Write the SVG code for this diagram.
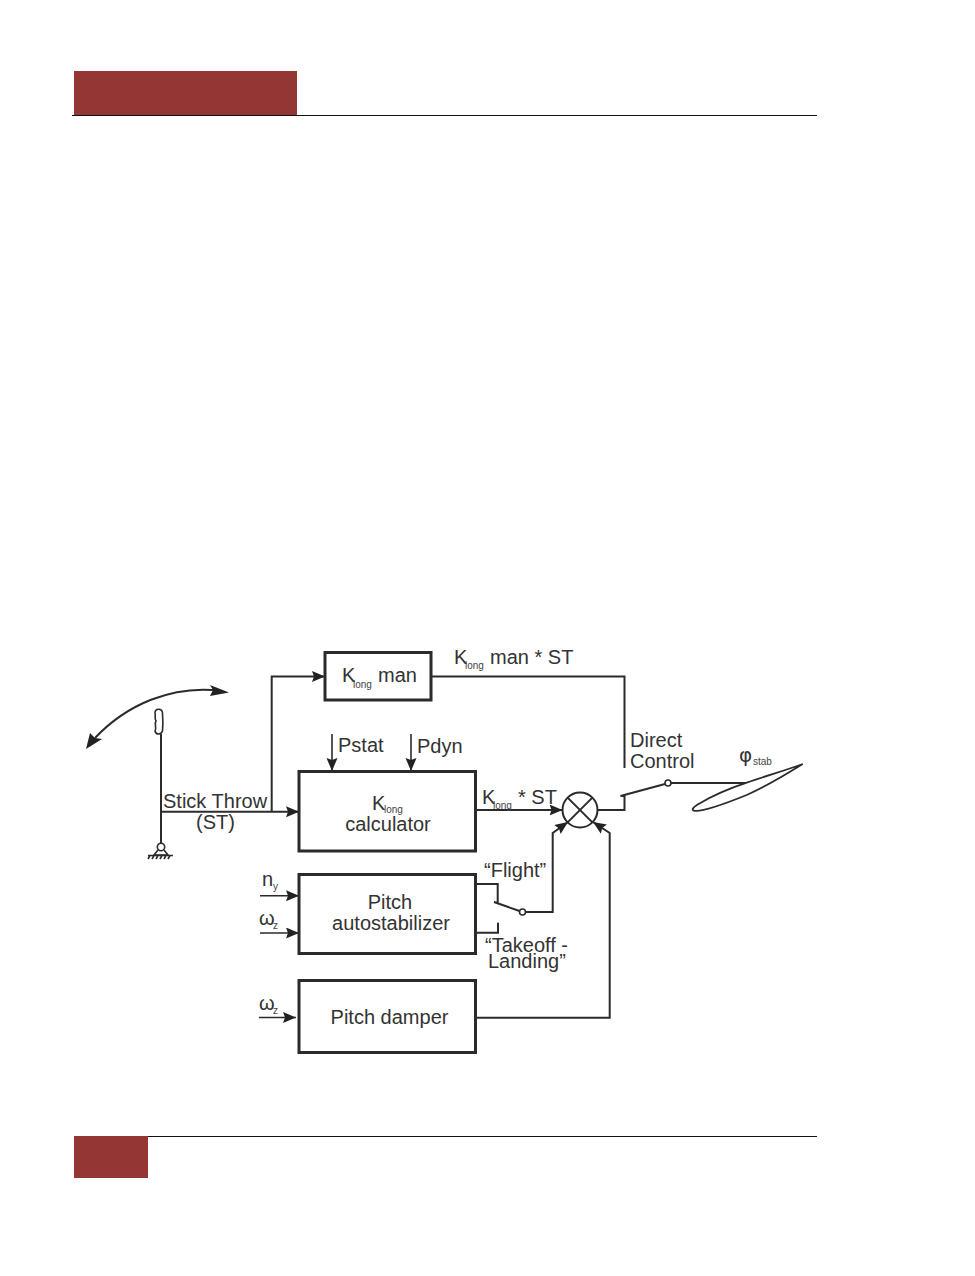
<svg xmlns="http://www.w3.org/2000/svg" width="975" height="1276" viewBox="0 0 975 1276">
<style>
text{font-family:"Liberation Sans",Arial,sans-serif;font-size:20px;fill:#333}
.s{font-size:10px;fill:#444}
.b{fill:#fff;stroke:#2b2b2b;stroke-width:3}
.c{fill:none;stroke:#2b2b2b;stroke-width:2}
.t{fill:none;stroke:#2b2b2b;stroke-width:1.6}
.m{text-anchor:middle}
</style>
<defs>
<marker id="a" markerUnits="userSpaceOnUse" markerWidth="15" markerHeight="13" refX="13" refY="5.500" orient="auto"><path d="M0 0L13 5.500L0 11L2 5.500Z" fill="#222"/></marker>
</defs>
<rect width="975" height="1276" fill="#fff"/>
<g id="page">
<rect x="74" y="71" width="223" height="45" fill="#943634"/>
<rect x="74" y="1136" width="74" height="42" fill="#943634"/>
<path d="M72 115.500H817M148 1136.500H817" stroke="#111" stroke-width="1.200" fill="none"/>
</g>
<g id="connectors">
<path class="c" d="M161 811.700H299" marker-end="url(#a)"/>
<path class="c" d="M271.700 811.700V676.500H325" marker-end="url(#a)"/>
<path class="c" d="M431 676.500H624.500V768"/>
<path class="c" d="M475 810H562.500" marker-end="url(#a)"/>
<path class="c" d="M597 810H624.500V796H620.500L665 784"/>
<path class="c" d="M671 783H747"/>
<path class="c" d="M475 884H497.700V903L494 902 519.500 911M525.500 912H552.700V833L568 822" marker-end="url(#a)"/>
<path class="c" d="M475 932.700H498V922.700"/>
<path class="c" d="M475 1017.700H609.700V833L593 822" marker-end="url(#a)"/>
<path class="t" d="M332 734V771" marker-end="url(#a)"/>
<path class="t" d="M411 734V771" marker-end="url(#a)"/>
<path class="t" d="M260 895.700H299" marker-end="url(#a)"/>
<path class="t" d="M260 933H299" marker-end="url(#a)"/>
<path class="t" d="M259 1017.500H296" marker-end="url(#a)"/>
<path class="c" d="M213 690C172 687 128 703 95 738"/>
<path d="M229 692.500L210 685L213 690L210 696Z" fill="#222"/>
<path d="M86 749L90 733L95 738L102 739Z" fill="#222"/>
</g>
<g id="stick">
<path class="c" d="M161 734V843"/>
<path class="t" d="M155 713C155 708 162 708 162.500 713C163 720 163 726 162.500 731C161 735 156 735 155 731C157 727 154 724 156 721C154 718 156 716 155 713Z"/>
<circle class="t" cx="161" cy="847" r="3.700" fill="#fff"/>
<path class="t" d="M158 850L154 855H168L164 850"/>
<path class="t" d="M148 855.500H173M150 855.500L148 859M154 855.500L152 859M158 855.500L156 859M162 855.500L160 859M166 855.500L164 859M170 855.500L168 859"/>
<text x="163" y="808">Stick Throw</text>
<text x="196" y="829">(ST)</text>
</g>
<g id="klong-man">
<rect class="b" x="325" y="652.500" width="106" height="47.500"/>
<text x="342" y="682">K</text><text class="s" x="353" y="688">long</text><text x="378" y="682">man</text>
</g>
<g id="klong-calc">
<rect class="b" x="299" y="771.500" width="176.500" height="79.500"/>
<text x="372" y="810">K</text><text class="s" x="384" y="813">long</text>
<text class="m" x="388" y="831">calculator</text>
</g>
<g id="autostab">
<rect class="b" x="299" y="874.500" width="176.500" height="79"/>
<text class="m" x="390" y="909">Pitch</text>
<text class="m" x="391" y="930">autostabilizer</text>
</g>
<g id="damper">
<rect class="b" x="299" y="980.500" width="176.500" height="72"/>
<text class="m" x="389.500" y="1024">Pitch damper</text>
</g>
<g id="summer">
<circle cx="580" cy="810" r="17.500" fill="#fff" stroke="#2b2b2b" stroke-width="2"/>
<path class="c" d="M567.600 797.600L592.400 822.400M592.400 797.600L567.600 822.400"/>
</g>
<g id="switch-circles">
<circle cx="668" cy="783" r="3" fill="#fff" stroke="#2b2b2b" stroke-width="1.600"/>
<circle cx="522.500" cy="912" r="3" fill="#fff" stroke="#2b2b2b" stroke-width="1.600"/>
</g>
<g id="stabilizer">
<path fill="#fff" stroke="#2b2b2b" stroke-width="1.800" d="M802.700 764C784 771 765 776 746.700 782.700C728 789 712 796 700 803.300C693 807 691 810 694 810.700C700 812 722 805 746.700 795C765 787 785 775 802.700 764Z"/>
</g>
<g id="labels">
<text x="454" y="664">K</text><text class="s" x="465" y="669">long</text><text x="490" y="664">man * ST</text>
<text x="630" y="747">Direct</text>
<text x="630" y="768">Control</text>
<text x="739" y="762" style="font-family:'DejaVu Sans',sans-serif;font-size:20px">φ</text><text class="s" x="753" y="765">stab</text>
<text x="482" y="804">K</text><text class="s" x="493" y="809">long</text><text x="518" y="804">* ST</text>
<text x="338" y="752">Pstat</text>
<text x="417" y="753">Pdyn</text>
<text x="484" y="877">“Flight”</text>
<text x="485" y="952">“Takeoff -</text>
<text x="488" y="968">Landing”</text>
<text x="262" y="886">n</text><text class="s" x="273" y="890">y</text>
<text x="259" y="925">ω</text><text class="s" x="273" y="929">z</text>
<text x="259" y="1010">ω</text><text class="s" x="273" y="1014">z</text>
</g>
</svg>
